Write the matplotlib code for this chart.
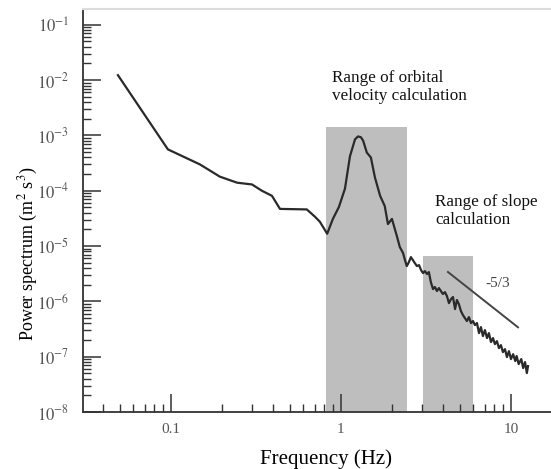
import matplotlib
matplotlib.use("Agg")
import matplotlib.pyplot as plt
from matplotlib.ticker import LogLocator, FixedLocator, FixedFormatter, NullFormatter

plt.rcParams["font.family"] = ["Liberation Serif", "DejaVu Serif"]
plt.rcParams["mathtext.fontset"] = "stix"

freq = [
    0.0488, 0.096, 0.148, 0.194, 0.245, 0.30, 0.343, 0.393, 0.438, 0.63,
    0.703, 0.752, 0.83, 0.897, 0.973, 1.056, 1.13, 1.21, 1.26, 1.31,
    1.35, 1.42, 1.50, 1.585, 1.70, 1.81, 1.89, 1.995, 2.13, 2.22,
    2.32, 2.38, 2.44, 2.51, 2.58, 2.65, 2.72, 2.80, 2.88, 2.96,
    3.04, 3.12, 3.21, 3.29, 3.38, 3.48, 3.57, 3.67, 3.77, 3.87,
    3.98, 4.09, 4.20, 4.32, 4.44, 4.56, 4.69, 4.81, 4.94, 5.08,
    5.22, 5.36, 5.51, 5.66, 5.82, 5.98, 6.14, 6.31, 6.49, 6.66,
    6.84, 7.03, 7.23, 7.42, 7.63, 7.84, 8.05, 8.27, 8.50, 8.73,
    8.97, 9.22, 9.47, 9.73, 10.0, 10.3, 10.6, 10.8, 11.1, 11.5,
    11.8, 12.1, 12.4, 12.6,
]
power = [
    1.23e-2, 5.6e-4, 3.0e-4, 1.8e-4, 1.4e-4, 1.3e-4, 1.0e-4, 8.1e-5, 4.7e-5, 4.6e-5,
    3.4e-5, 2.75e-5, 1.67e-5, 3.1e-5, 5.1e-5, 1.09e-4, 4.2e-4, 8.5e-4, 9.6e-4, 9.3e-4,
    8.1e-4, 4.9e-4, 4.0e-4, 1.74e-4, 8.1e-5, 5.3e-5, 2.5e-5, 3.1e-5, 1.54e-5, 9.6e-6,
    7.47e-6, 5.58e-6, 4.35e-6, 5.14e-6, 6.32e-6, 5.58e-6, 4.93e-6, 4.35e-6, 4.53e-6, 3.68e-6,
    3.25e-6, 3.53e-6, 3.12e-6, 3.39e-6, 2.23e-6, 1.67e-6, 1.82e-6, 1.54e-6, 1.74e-6, 1.54e-6,
    1.36e-6, 1.47e-6, 1.25e-6, 9.3e-7, 1.10e-6, 1.20e-6, 7.26e-7, 1.06e-6, 8.93e-7, 6.68e-7,
    5.65e-7, 4.99e-7, 4.41e-7, 5.20e-7, 4.06e-7, 4.41e-7, 3.73e-7, 4.06e-7, 2.67e-7, 3.43e-7,
    2.36e-7, 3.03e-7, 2.17e-7, 2.67e-7, 1.84e-7, 2.17e-7, 1.69e-7, 1.91e-7, 1.43e-7, 1.62e-7,
    1.21e-7, 1.37e-7, 9.84e-8, 1.26e-7, 9.06e-8, 1.11e-7, 8.34e-8, 1.03e-7, 7.35e-8, 9.06e-8,
    6.22e-8, 8.0e-8, 5.06e-8, 6.76e-8,
]

# shaded frequency bands: (f_lo, f_hi, top)
orbital_band = (0.816, 2.44, 1.4e-3)
slope_band = (3.04, 5.98, 6.6e-6)

# reference slope segment
slope_f = [4.26, 11.0]
slope_p = [3.4e-6, 3.4e-7]

y_decades = [1e-8, 1e-7, 1e-6, 1e-5, 1e-4, 1e-3, 1e-2, 1e-1]
y_labels = ["$10^{-8}$", "$10^{-7}$", "$10^{-6}$", "$10^{-5}$",
            "$10^{-4}$", "$10^{-3}$", "$10^{-2}$", "$10^{-1}$"]
x_major = [0.1, 1, 10]
x_labels = ["0.1", "1", "10"]

fig = plt.figure(figsize=(5.51, 4.69), dpi=100)
ax = fig.add_axes([0.1506, 0.1215, 0.8494, 0.8595])
ax.set_xscale("log")
ax.set_yscale("log")
ax.set_xlim(0.0304, 17.2)
ax.set_ylim(1e-8, 0.194)

for lo, hi, top in (orbital_band, slope_band):
    ax.fill_between([lo, hi], [1e-8, 1e-8], [top, top], color="#bebebe", lw=0, zorder=1)

ax.plot(freq, power, color="#2a2a2a", lw=1.6, zorder=3)
ax.plot(slope_f, slope_p, color="#444444", lw=1.4, zorder=3)

ax.text(0.885, 1.5e-2, "Range of orbital\nvelocity calculation", fontsize=12.3,
        linespacing=1.15, va="top", ha="left", color="#111111")
ax.text(3.57, 8.6e-5, "Range of slope\ncalculation", fontsize=12.3,
        linespacing=1.15, va="top", ha="left", color="#111111")
ax.text(7.1, 2.1e-6, "-5/3", fontsize=11, color="#444444", ha="left", va="center")

ax.xaxis.set_major_locator(FixedLocator(x_major))
ax.xaxis.set_major_formatter(FixedFormatter(x_labels))
ax.xaxis.set_minor_locator(LogLocator(base=10, subs=range(2, 10)))
ax.xaxis.set_minor_formatter(NullFormatter())
ax.yaxis.set_major_locator(FixedLocator(y_decades))
ax.yaxis.set_major_formatter(FixedFormatter(y_labels))
ax.yaxis.set_minor_locator(LogLocator(base=10, subs=range(2, 10)))
ax.yaxis.set_minor_formatter(NullFormatter())

ax.tick_params(which="major", direction="in", length=13, width=1.1,
               color="#333333", labelsize=11, labelcolor="#555555")
ax.tick_params(which="minor", direction="in", length=6, width=1.0, color="#333333")
ax.tick_params(axis="y", which="major", pad=10, labelsize=12)
ax.tick_params(axis="x", which="major", pad=8)

for side in ("left", "bottom"):
    ax.spines[side].set_color("#333333")
    ax.spines[side].set_linewidth(1.3)
ax.spines["top"].set_color("#dcdcdc")
ax.spines["top"].set_linewidth(1.5)
ax.spines["right"].set_visible(False)

ax.set_xlabel("Frequency (Hz)", fontsize=15)
ax.set_ylabel("Power spectrum (m$^2$ s$^3$)", fontsize=13)
ax.xaxis.set_label_coords(0.519, -0.092)
ax.yaxis.set_label_coords(-0.092, 0.392)

fig.savefig("out.png", dpi=100)
